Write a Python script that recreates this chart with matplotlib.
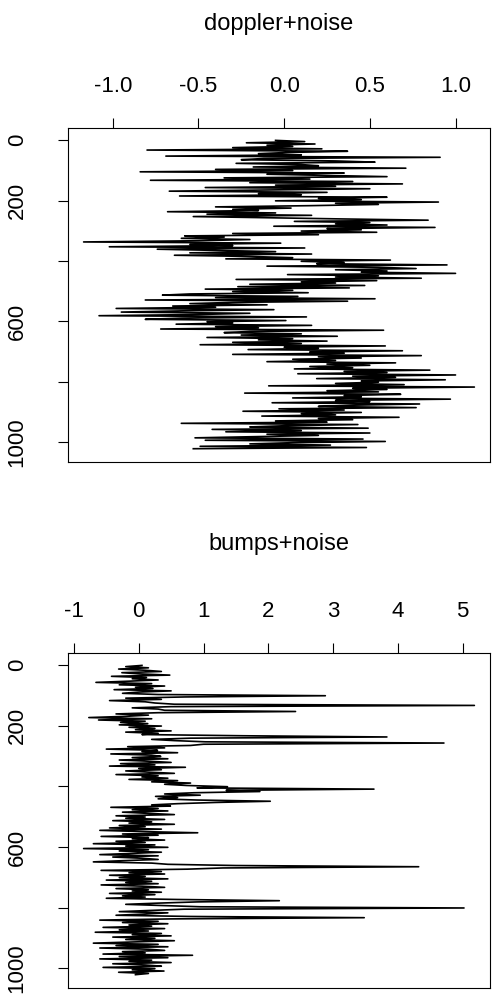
import numpy as np
import matplotlib
matplotlib.use("Agg")
import matplotlib.pyplot as plt

plt.rcParams['font.family'] = ['Liberation Sans', 'DejaVu Sans']

# 信号长度 1024，按每 4 个点读取一次
n_total = 1024
index = np.arange(1, n_total + 1, 4)

doppler = [
    -0.05, 0.12, -0.22, 0.18, -0.10, 0.05, -0.30, 0.22, -0.80, 0.37, 0.02, -0.15, 0.10, -0.69, 0.91, -0.12,
    -0.25, 0.30, 0.53, -0.28, 0.10, 0.20, -0.18, 0.71, -0.40, 0.05, -0.84, 0.35, -0.10, 0.25, 0.60, -0.35,
    0.15, -0.78, 0.40, -0.20, 0.69, -0.05, 0.30, -0.46, 0.50, -0.10, -0.67, 0.25, -0.15, 0.10, -0.61, 0.60,
    0.20, 0.45, -0.05, 0.90, 0.30, 0.55, 0.15, -0.40, 0.04, -0.30, -0.15, -0.68, -0.05, -0.45, 0.16, -0.53,
    -0.10, 0.35, 0.84, 0.06, 0.50, 0.30, 0.60, -0.06, 0.88, 0.25, 0.45, 0.10, 0.54, -0.30, 0.20, -0.58,
    -0.35, -0.60, -0.20, -0.50, -1.17, -0.02, -0.55, -0.30, -1.02, 0.12, -0.74, -0.40, -0.05, -0.55, 0.16, -0.64,
    -0.20, 0.05, -0.34, 0.62, 0.10, 0.35, 0.19, 0.95, -0.10, 0.55, 0.77, 0.30, 0.60, 0.45, 1.00, 0.02,
    0.55, 0.30, 0.80, -0.28, 0.54, 0.10, 0.30, -0.20, 0.47, -0.27, 0.38, -0.46, 0.05, -0.30, 0.14, -0.55,
    -0.71, 0.08, -0.40, 0.53, -0.81, 0.37, -0.30, -0.55, -0.10, -0.65, -0.40, -0.98, -0.06, -0.60, -0.95, -0.20,
    -0.50, -1.08, 0.13, -0.60, -0.81, 0.01, -0.45, -0.30, -0.63, 0.16, -0.40, -0.15, -0.72, 0.58, -0.20, -0.35,
    0.10, -0.25, 0.31, -0.45, 0.05, -0.15, 0.25, -0.30, 0.10, -0.49, 0.59, 0.00, 0.20, -0.21, 0.69, 0.15,
    0.35, -0.30, 0.80, 0.20, 0.45, 0.05, 0.30, -0.10, 0.65, 0.25, 0.50, 0.15, 0.40, 0.06, 0.85, 0.35,
    0.60, 0.08, 1.00, 0.40, 0.65, 0.19, 0.94, 0.45, 0.55, 0.30, 0.70, -0.09, 1.11, 0.40, 0.60, 0.25,
    0.55, -0.23, 0.68, 0.35, 0.45, 0.05, 0.97, 0.30, 0.50, -0.07, 0.79, 0.40, 0.20, 0.77, -0.03, 0.35,
    -0.24, 0.45, 0.10, 0.30, -0.13, 0.67, 0.20, 0.40, -0.05, 0.25, -0.60, 0.43, 0.00, -0.20, 0.49, -0.42,
    0.10, -0.34, 0.50, -0.10, 0.20, -0.15, -0.52, 0.46, -0.46, 0.59, 0.05, -0.20, 0.27, -0.49, 0.48, -0.53,
]

bumps = [
    0.05, -0.20, 0.15, -0.31, 0.10, 0.35, -0.26, 0.02, 0.48, -0.42, 0.12, -0.10, 0.30, -0.15, -0.66, 0.20,
    -0.30, 0.40, -0.05, 0.22, -0.38, 0.50, 0.00, -0.25, 0.30, 2.88, 0.72, -0.20, 0.35, -0.45, 0.10, 0.25,
    0.55, 5.18, 0.50, -0.10, 0.30, 0.40, 2.42, 0.30, -0.35, 0.15, -0.20, -0.77, 0.20, -0.62, 0.10, -0.28,
    0.14, -0.30, 0.35, -0.15, 0.25, -0.05, 0.50, -0.20, 0.30, 0.05, 1.60, 3.83, 0.80, 0.20, 0.55, 1.03,
    4.71, 1.00, 0.80, -0.17, 0.40, -0.50, 0.29, 0.05, 0.60, -0.43, 0.20, 0.34, -0.10, 0.45, -0.30, 0.15,
    0.50, -0.28, 0.25, -0.45, 0.72, 0.00, 0.35, -0.20, 0.15, 0.55, -0.35, 0.30, 0.05, 0.45, -0.15, 0.60,
    0.20, 0.80, 0.40, 0.74, 1.37, 0.90, 3.63, 1.35, 1.87, 0.85, 0.40, 0.95, 0.26, 0.60, 0.30, 0.90,
    2.03, 1.18, 0.60, 0.20, 0.49, -0.43, 0.30, -0.10, 0.45, -0.25, 0.15, 0.55, -0.35, 0.10, -0.20, 0.40,
    -0.40, 0.20, -0.15, 0.55, -0.30, 0.10, -0.45, 0.35, -0.60, 0.05, 0.91, -0.25, 0.30, -0.58, 0.15, -0.10,
    0.40, -0.35, 0.10, -0.70, 0.25, -0.20, 0.45, -0.85, 0.15, -0.30, 0.35, -0.10, -0.60, 0.30, -0.40, 0.05,
    0.30, -0.25, -0.70, 0.20, 0.45, 1.50, 4.32, 1.30, 0.75, -0.58, 0.35, -0.15, 0.40, -0.45, 0.10, -0.30,
    0.45, -0.50, 0.20, -0.20, 0.30, -0.58, 0.05, 0.40, -0.35, 0.15, -0.10, 0.35, -0.45, 0.25, -0.25, 0.10,
    -0.50, 0.60, 2.17, 0.90, 0.30, -0.20, 0.40, 0.95, 5.02, 0.70, 0.20, -0.30, 0.45, 0.10, -0.35, 0.80,
    3.48, 0.50, -0.60, 0.30, -0.25, 0.45, -0.15, 0.20, -0.55, 0.40, -0.30, 0.15, -0.67, 0.35, -0.10, 0.50,
    -0.40, 0.25, -0.20, 0.55, -0.05, -0.70, 0.30, -0.35, 0.45, -0.60, 0.15, 0.40, -0.25, 0.10, -0.55, 0.83,
    -0.30, 0.45, -0.60, 0.20, -0.15, 0.50, -0.40, 0.10, 0.35, -0.55, 0.25, -0.10, 0.39, -0.31, 0.15, -0.05,
]

titles = ['doppler+noise', 'bumps+noise']
x_ticks = [[-1.0, -0.5, 0.0, 0.5, 1.0], [-1, 0, 1, 2, 3, 4, 5]]
x_labels = [['-1.0', '-0.5', '0.0', '0.5', '1.0'], ['-1', '0', '1', '2', '3', '4', '5']]
y_ticks = [0, 200, 400, 600, 800, 1000]
y_labels = ['0', '200', '', '600', '', '1000']

fig = plt.figure(figsize=(4.93, 10.01), dpi=100)
# 面板位置（像素换算成比例）
boxes = [[68/493, 1 - 462/1001, 422/493, 334/1001],
         [68/493, 1 - 988/1001, 422/493, 335/1001]]
title_y = [1 - 24/1001, 1 - 544/1001]

for i, series in enumerate([doppler, bumps]):
    ax = fig.add_axes(boxes[i])
    ax.plot(series, index, color='black', lw=1.2)
    # R 风格：两端各留 4%
    vmin, vmax = min(series), max(series)
    r = vmax - vmin
    ax.set_xlim(vmin - 0.04 * r, vmax + 0.04 * r)
    ax.set_ylim(n_total + 0.04 * (n_total - 1), 1 - 0.04 * (n_total - 1))
    ax.xaxis.tick_top()
    ax.set_xticks(x_ticks[i])
    ax.set_xticklabels(x_labels[i])
    ax.set_yticks(y_ticks)
    ax.set_yticklabels(y_labels, rotation=90, va='center')
    ax.tick_params(axis='x', length=7, width=0.8, pad=15, labelsize=16)
    ax.tick_params(axis='y', length=7, width=0.8, pad=22, labelsize=16)
    for s in ax.spines.values():
        s.set_linewidth(0.8)
    fig.text(0.5 * (boxes[i][0] * 2 + boxes[i][2]), title_y[i], titles[i],
             ha='center', va='center', fontsize=17)

fig.savefig('out.png', dpi=100)
